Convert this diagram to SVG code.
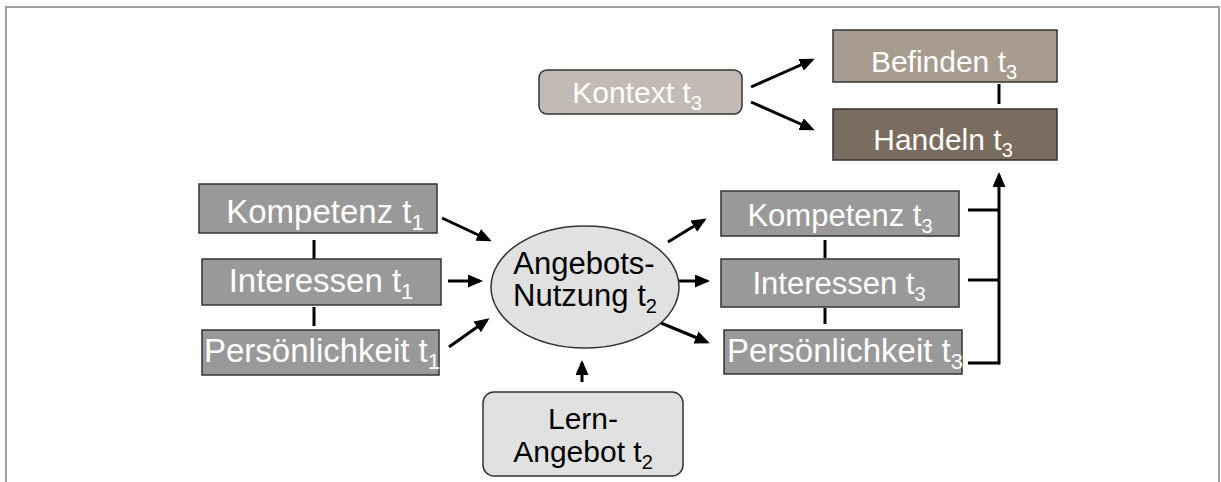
<svg xmlns="http://www.w3.org/2000/svg" width="1221" height="482" viewBox="0 0 1221 482">
  <style>
    .box { stroke: #333333; stroke-width: 1.5; }
    .grey { fill: #999999; }
    .lbl { font-family: "Liberation Sans", Arial, sans-serif; font-size: 30px; text-anchor: middle; }
    .big { font-size: 33px; }
    .mid { font-size: 31px; }
    .light { fill: #ffffff; }
    .dark { fill: #000000; }
    .sub { font-size: 20px; }
    .big .sub { font-size: 22px; }
    .link { stroke: #000000; stroke-width: 3; fill: none; }
    .arrow { marker-end: url(#head); }
  </style>
  <defs>
    <marker id="head" viewBox="0 0 15 13" refX="12" refY="6.5" markerWidth="15" markerHeight="13" markerUnits="userSpaceOnUse" orient="auto">
      <path d="M0,0 L15,6.5 L0,13 z" fill="#000000"/>
    </marker>
  </defs>

  <rect width="1221" height="482" fill="#ffffff"/>
  <!-- outer frame, open at the bottom -->
  <path d="M6,482 V7 H1219 V482" fill="none" stroke="#a0a0a0" stroke-width="2"/>

  <g id="connectors">
    <!-- context to outcomes -->
    <line class="link arrow" x1="751" y1="87" x2="812" y2="60"/>
    <line class="link arrow" x1="751" y1="102" x2="812" y2="129"/>
    <line class="link" x1="999" y1="84" x2="999" y2="104"/>
    <!-- t1 links -->
    <line class="link" x1="314" y1="240" x2="314" y2="259"/>
    <line class="link" x1="314" y1="307" x2="314" y2="326"/>
    <!-- t1 to usage -->
    <line class="link arrow" x1="442" y1="218" x2="489" y2="240"/>
    <line class="link arrow" x1="448" y1="281" x2="480" y2="281"/>
    <line class="link arrow" x1="449" y1="347" x2="487" y2="320"/>
    <!-- offer to usage -->
    <line class="link arrow" x1="582" y1="382" x2="582" y2="363"/>
    <!-- usage to t3 -->
    <line class="link arrow" x1="668" y1="242" x2="704" y2="220"/>
    <line class="link arrow" x1="679" y1="281" x2="707" y2="281"/>
    <line class="link arrow" x1="661" y1="323" x2="707" y2="342"/>
    <!-- t3 links -->
    <line class="link" x1="825" y1="240" x2="825" y2="258"/>
    <line class="link" x1="825" y1="308" x2="825" y2="324"/>
    <!-- t3 bracket to Handeln -->
    <path class="link" d="M968,210 H999 M968,280 H999 M968,363 H999"/>
    <line class="link arrow" x1="999" y1="364.5" x2="999" y2="175"/>
  </g>

  <g id="kontext-t3">
    <rect class="box" x="539" y="70" width="203" height="44" rx="8" fill="#c3bab4"/>
    <text class="lbl light" x="637" y="103">Kontext t<tspan class="sub" dy="7">3</tspan></text>
  </g>
  <g id="befinden-t3">
    <rect class="box" x="833" y="30" width="224" height="52" fill="#a89c91"/>
    <text class="lbl light" x="944" y="72">Befinden t<tspan class="sub" dy="7">3</tspan></text>
  </g>
  <g id="handeln-t3">
    <rect class="box" x="833" y="109" width="224" height="51" fill="#7a6c5f"/>
    <text class="lbl light" x="943" y="150">Handeln t<tspan class="sub" dy="7">3</tspan></text>
  </g>

  <g id="kompetenz-t1">
    <rect class="box grey" x="199" y="184" width="238" height="49"/>
    <text class="lbl big light" x="325" y="223">Kompetenz t<tspan class="sub" dy="7">1</tspan></text>
  </g>
  <g id="interessen-t1">
    <rect class="box grey" x="202" y="259" width="239" height="46"/>
    <text class="lbl big light" x="321" y="292">Interessen t<tspan class="sub" dy="7">1</tspan></text>
  </g>
  <g id="persoenlichkeit-t1">
    <rect class="box grey" x="202" y="330" width="237" height="45"/>
    <text class="lbl big light" x="322" y="362">Persönlichkeit t<tspan class="sub" dy="7">1</tspan></text>
  </g>

  <g id="angebotsnutzung-t2">
    <ellipse class="box" cx="585" cy="287" rx="94" ry="61" fill="#e1e1e1"/>
    <text class="lbl mid dark" x="584" y="274">Angebots-</text>
    <text class="lbl mid dark" x="585" y="306">Nutzung t<tspan class="sub" dy="7">2</tspan></text>
  </g>

  <g id="lernangebot-t2">
    <rect class="box" x="483" y="392" width="200" height="84" rx="11" fill="#e1e1e1"/>
    <text class="lbl dark" x="583" y="429">Lern-</text>
    <text class="lbl dark" x="583" y="462">Angebot t<tspan class="sub" dy="7">2</tspan></text>
  </g>

  <g id="kompetenz-t3">
    <rect class="box grey" x="721" y="191" width="238" height="45"/>
    <text class="lbl mid light" x="840" y="226">Kompetenz t<tspan class="sub" dy="7">3</tspan></text>
  </g>
  <g id="interessen-t3">
    <rect class="box grey" x="721" y="259" width="238" height="48"/>
    <text class="lbl mid light" x="839" y="294">Interessen t<tspan class="sub" dy="7">3</tspan></text>
  </g>
  <g id="persoenlichkeit-t3">
    <rect class="box grey" x="724" y="330" width="238" height="44"/>
    <text class="lbl big light" x="845" y="362">Persönlichkeit t<tspan class="sub" dy="7">3</tspan></text>
  </g>
</svg>
